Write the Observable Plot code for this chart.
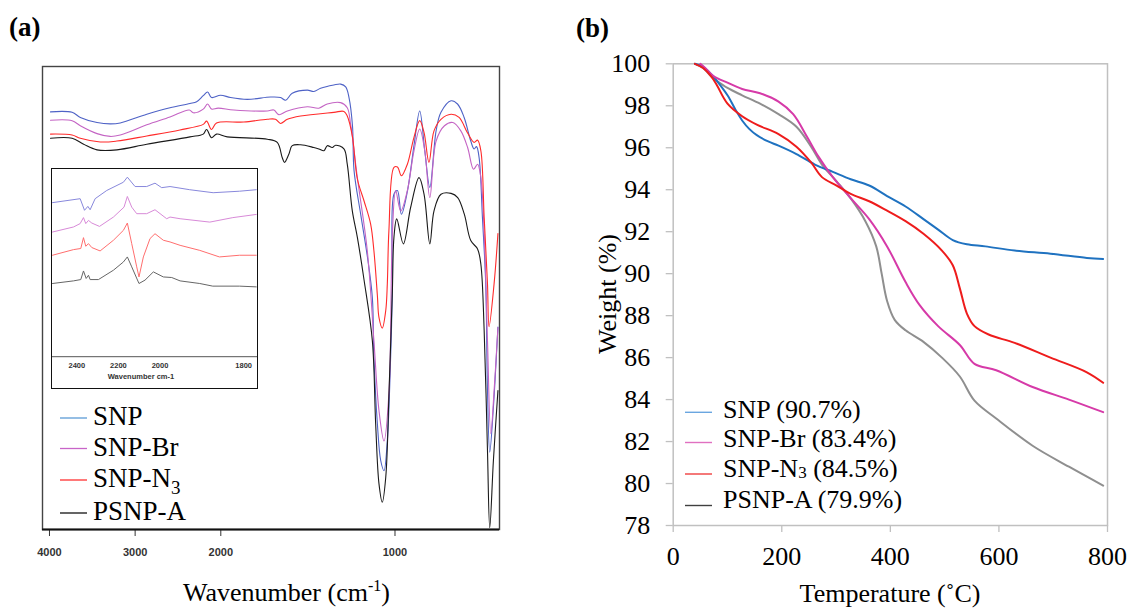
<!DOCTYPE html>
<html><head><meta charset="utf-8">
<script src="https://cdn.jsdelivr.net/npm/d3@7"></script>
<script src="https://cdn.jsdelivr.net/npm/@observablehq/plot@0.6"></script>
<style>
html,body{margin:0;padding:0;background:#fff;}
#wrap{position:relative;width:1127px;height:610px;overflow:hidden;background:#fff;}
.abs{position:absolute;}
</style></head><body>
<div id="wrap">
  <div id="pa" class="abs" style="left:0;top:0;width:560px;height:610px"></div>
  <div id="pin" class="abs" style="left:51px;top:168px;width:205px;height:219px;border:1.6px solid #111;background:#fff"></div>
  <div id="pb" class="abs" style="left:560px;top:0;width:567px;height:610px"></div>
  <svg id="ov" class="abs" style="left:0;top:0;pointer-events:none" width="1127" height="610"></svg>
</div>
<script>
// ---------- series names ----------
const seriesNames = ["SNP", "SNP-Br", "SNP-N3", "PSNP-A"];
const tgaLegend = ["(90.7%)", "(83.4%)", "(84.5%)", "(79.9%)"];

// ---------- (a) FTIR main: [wavenumber cm-1, transmittance a.u.] ----------
const ftirSNP = [[3988,90.2],[3736,90.1],[3640,89.0],[3445,87.9],[3291,87.6],[3174,87.8],[2864,89.7],[2593,91.1],[2360,92.0],[2282,92.4],[2205,93.7],[2154,94.5],[2108,93.3],[2003,93.8],[1944,93.3],[1848,92.9],[1714,93.4],[1657,93.3],[1628,92.7],[1590,94.2],[1503,94.9],[1466,94.6],[1427,95.3],[1351,96.0],[1312,96.2],[1283,95.6],[1264,93.3],[1244,87.2],[1235,77.5],[1197,68.1],[1158,58.8],[1130,50.1],[1121,37.2],[1101,22.8],[1082,14.9],[1063,12.7],[1044,19.2],[1025,37.2],[1015,51.6],[1006,72.4],[986,73.2],[963,68.1],[928,73.2],[890,83.2],[858,90.4],[829,81.8],[800,73.9],[764,86.1],[736,90.1],[678,92.6],[641,91.9],[603,89.0],[565,83.9],[546,82.2],[532,82.7],[517,80.3],[498,67.4],[479,53.0],[469,30.0],[456,16.7],[435,26.4],[409,43.7]];
const ftirSNPBr = [[3988,88.4],[3736,88.3],[3640,87.2],[3445,85.5],[3291,84.9],[3174,85.2],[2864,87.4],[2593,89.1],[2368,90.6],[2322,90.0],[2205,90.8],[2154,91.9],[2108,90.8],[2031,91.0],[1925,90.6],[1733,90.4],[1695,90.6],[1667,89.6],[1618,90.4],[1503,91.3],[1437,91.0],[1389,91.9],[1312,92.2],[1274,91.1],[1255,87.6],[1216,76.0],[1159,60.2],[1121,40.8],[1092,25.7],[1063,19.1],[1034,30.0],[1015,63.9],[996,73.2],[967,68.8],[929,73.2],[891,81.8],[858,86.5],[829,81.8],[800,71.7],[764,83.9],[716,87.2],[668,87.9],[622,86.1],[583,82.5],[549,77.8],[526,78.9],[507,76.0],[488,63.9],[469,40.8],[450,20.7],[431,30.0],[409,43.6]];
const ftirSNPN3 = [[3988,85.4],[3736,85.2],[3640,84.5],[3407,83.7],[3213,83.9],[2864,85.0],[2477,86.3],[2205,87.5],[2166,88.2],[2108,86.4],[2050,87.8],[1868,88.0],[1733,88.6],[1686,88.6],[1657,87.7],[1618,88.6],[1542,89.3],[1351,90.1],[1293,90.3],[1274,89.3],[1245,85.0],[1216,75.7],[1178,71.0],[1140,66.0],[1121,60.2],[1101,50.5],[1092,45.8],[1073,43.5],[1053,47.3],[1044,53.1],[1035,64.5],[1006,78.2],[986,78.3],[963,76.4],[929,78.9],[891,84.7],[858,88.3],[833,85.7],[805,79.3],[776,86.1],[736,88.6],[678,89.7],[632,89.0],[584,85.7],[546,83.6],[526,84.1],[507,81.8],[488,67.4],[469,53.1],[460,43.8],[431,53.1],[409,63.9]];
const ftirPSNPA = [[3988,84.5],[3736,84.5],[3601,83.2],[3445,82.0],[3213,82.0],[2864,83.2],[2360,84.8],[2205,85.4],[2166,86.4],[2108,84.6],[2050,85.4],[1963,84.8],[1733,84.3],[1676,83.6],[1647,80.3],[1634,79.3],[1609,81.1],[1590,82.9],[1542,83.1],[1466,82.5],[1437,82.2],[1408,81.8],[1389,82.9],[1360,82.5],[1341,83.0],[1293,82.2],[1274,78.9],[1245,68.8],[1216,63.1],[1178,54.0],[1130,40.8],[1111,22.9],[1092,9.9],[1073,5.9],[1053,11.3],[1034,30.0],[1015,51.6],[1006,63.1],[990,67.1],[952,61.7],[910,69.6],[862,76.0],[833,72.4],[800,61.7],[776,68.8],[736,72.4],[678,72.6],[640,71.7],[602,68.1],[565,62.4],[526,60.6],[507,57.3],[488,42.9],[469,17.0],[456,0.4],[435,14.9],[409,30.0]];

// ---------- (a) inset: 2500-1770 cm-1 ----------
const insetSNP = [[2517,82.3],[2384,84.4],[2363,78.2],[2347,80.3],[2336,78.5],[2312,84.4],[2256,88.8],[2176,93.2],[2157,95.9],[2120,90.9],[2064,90.9],[2024,92.7],[1996,90.3],[1976,90.9],[1929,89.2],[1873,87.6],[1810,88.4],[1770,89.2]];
const insetSNPBr = [[2517,66.6],[2416,69.3],[2384,71.1],[2368,74.3],[2357,71.1],[2344,72.8],[2328,71.4],[2291,69.6],[2224,74.6],[2173,79.9],[2157,85.6],[2136,79.9],[2112,76.4],[2064,76.4],[2024,78.5],[1984,73.7],[1976,74.6],[1952,73.7],[1881,71.9],[1826,74.3],[1770,76.0]];
const insetSNPN3 = [[2517,54.2],[2416,57.2],[2381,57.8],[2368,63.6],[2357,59.0],[2344,60.4],[2328,58.3],[2288,56.5],[2224,62.2],[2176,67.5],[2157,71.4],[2136,60.4],[2112,48.0],[2101,42.6],[2080,53.3],[2048,63.1],[2024,65.7],[1992,62.2],[1976,61.3],[1952,59.5],[1905,56.8],[1858,53.3],[1810,54.2],[1770,54.2]];
const insetPSNPA = [[2517,39.1],[2416,40.5],[2381,41.2],[2368,45.8],[2355,41.8],[2344,43.5],[2336,41.2],[2296,41.2],[2224,46.2],[2176,50.6],[2157,53.3],[2136,48.0],[2101,39.1],[2072,40.9],[2032,45.3],[1992,42.6],[1972,42.3],[1952,40.5],[1905,39.1],[1874,37.7],[1810,37.7],[1770,37.3]];

// ---------- (b) TGA: [temperature °C, weight %] ----------
const tgaSNP = [[40,100],[55,99.85],[70,99.5],[80,99.2],[100,98.5],[115,97.8],[127,97.3],[140,96.9],[154,96.6],[175,96.3],[194,96.1],[227,95.7],[261,95.2],[294,94.85],[327,94.5],[361,94.2],[394,93.7],[428,93.2],[461,92.6],[488,92.1],[515,91.6],[541,91.4],[575,91.3],[629,91.1],[695,90.95],[762,90.75],[792,90.7]];
const tgaSNPBr = [[50,100],[59,99.8],[75,99.4],[100,99.1],[127,98.8],[160,98.6],[194,98.2],[221,97.6],[247,96.5],[267,95.6],[294,94.6],[327,93.6],[361,92.6],[394,91.3],[428,89.6],[454,88.5],[488,87.5],[528,86.6],[555,85.7],[595,85.4],[662,84.6],[729,84.0],[792,83.4]];
const tgaSNPN3 = [[40,100],[55,99.8],[70,99.4],[80,99.0],[100,98.1],[127,97.5],[154,97.1],[194,96.65],[227,96.05],[254,95.3],[274,94.6],[301,94.2],[327,93.8],[361,93.45],[394,93.0],[428,92.5],[461,91.9],[495,91.1],[515,90.4],[528,89.3],[541,88.1],[555,87.5],[581,87.1],[629,86.7],[695,86.0],[762,85.3],[792,84.8]];
const tgaPSNPA = [[40,100],[55,99.8],[70,99.4],[80,99.2],[100,98.85],[127,98.5],[160,98.1],[194,97.6],[227,97.0],[254,96.05],[274,95.2],[301,94.4],[328,93.55],[354,92.5],[374,91.3],[384,90.0],[394,88.7],[408,87.8],[428,87.3],[461,86.75],[495,86.0],[528,85.1],[555,83.95],[595,83.1],[662,81.8],[729,80.8],[792,79.9]];

// ---------- tick labels ----------
const ftirTicks = [4000, 3000, 2000, 1000];
const insetTicks = [2400, 2200, 2000, 1800];
const tgaXTicks = [0, 200, 400, 600, 800];
const tgaYTicks = [78, 80, 82, 84, 86, 88, 90, 92, 94, 96, 98, 100];

// ---------- colours ----------
const colorsMain = ["#4e62c6", "#c464c4", "#ff2b2b", "#1a1a1a"];
const colorsInset = ["#8888dc", "#d88ad8", "#ff6e6e", "#666666"];
const colorsLegendA = ["#5b9bd5", "#c864c8", "#ff3030", "#111111"];
const colorsTGA = ["#1f72c0", "#d63aa8", "#ee1c1c", "#8f8f8f"];
const colorsLegendB = ["#6aa6e0", "#e070c0", "#f04040", "#404040"];

const serif = "'Liberation Serif', 'Times New Roman', serif";
const sans = "'Liberation Sans', Arial, sans-serif";

const rows = (arr, s) => arr.map(([x, y]) => ({x, y, series: s}));
const mainRows = [ftirSNP, ftirSNPBr, ftirSNPN3, ftirPSNPA].flatMap((a, i) => rows(a, seriesNames[i]));
const insetRows = [insetSNP, insetSNPBr, insetSNPN3, insetPSNPA].flatMap((a, i) => rows(a, seriesNames[i]));
const tgaRows = [tgaPSNPA, tgaSNP, tgaSNPBr, tgaSNPN3].flatMap((a, i) => rows(a, ["PSNP-A","SNP","SNP-Br","SNP-N3"][i]));

// ---------- (a) main FTIR ----------
const pa = Plot.plot({
  width: 560, height: 610,
  marginLeft: 42, marginRight: 61, marginTop: 66, marginBottom: 81,
  x: {type: "linear", domain: [4085, 2000, 400], range: [41.7, 220.3, 499], ticks: ftirTicks,
      tickFormat: d => String(d), tickSize: 7, tickPadding: 12, label: null},
  y: {domain: [0, 100], axis: null},
  color: {domain: seriesNames, range: colorsMain},
  style: {fontFamily: sans, fontSize: "11px", fontWeight: "bold", color: "#333", background: "transparent"},
  marks: [
    Plot.frame({stroke: "#444", strokeWidth: 1.4}),
    Plot.ruleY([0], {stroke: "#111", strokeWidth: 2}),
    Plot.line(mainRows, {x: "x", y: "y", z: "series", stroke: "series", strokeWidth: 1.1, curve: "catmull-rom"})
  ]
});
d3.select(pa).selectAll("text").attr("font-family", sans).attr("font-size", 11).attr("font-weight", "bold").attr("fill", "#333");
document.getElementById("pa").appendChild(pa);

// ---------- (a) inset ----------
const pin = Plot.plot({
  width: 205, height: 219,
  marginLeft: 0, marginRight: 0, marginTop: 0, marginBottom: 31.8,
  x: {type: "linear", domain: [2517, 2000, 1767], range: [0, 107.5, 205], ticks: insetTicks,
      tickFormat: d => String(d), tickSize: 0, tickPadding: 6, label: null},
  y: {domain: [0, 100], axis: null},
  color: {domain: seriesNames, range: colorsInset},
  style: {fontFamily: sans, fontSize: "7.5px", fontWeight: "bold", color: "#333", background: "#fff"},
  marks: [
    Plot.ruleY([0], {stroke: "#555", strokeWidth: 1}),
    Plot.line(insetRows, {x: "x", y: "y", z: "series", stroke: "series", strokeWidth: 1, curve: "linear"})
  ]
});
d3.select(pin).selectAll("text").attr("font-family", sans).attr("font-size", 7.5).attr("font-weight", "bold").attr("fill", "#333");
document.getElementById("pin").appendChild(pin);

// ---------- (b) TGA ----------
const pb = Plot.plot({
  width: 567, height: 610,
  marginLeft: 112.7, marginRight: 20, marginTop: 63.3, marginBottom: 85,
  x: {domain: [0, 800], ticks: tgaXTicks, tickSize: 7, tickPadding: 14, label: null},
  y: {domain: [78, 100], ticks: tgaYTicks, tickSize: 7, tickPadding: 16, label: null},
  color: {domain: seriesNames, range: colorsTGA},
  style: {fontFamily: serif, fontSize: "26px", color: "#000", background: "transparent"},
  marks: [
    Plot.frame({stroke: "#c0c0c0", strokeWidth: 1.5}),
    Plot.line(tgaRows, {x: "x", y: "y", z: "series", stroke: "series", strokeWidth: 2, curve: "catmull-rom"})
  ]
});
d3.select(pb).selectAll("g[aria-label*='axis'] line, g[aria-label*='axis'] path").attr("stroke", "#c0c0c0").attr("stroke-width", 1.3);
d3.select(pb).selectAll("text").attr("font-family", serif).attr("font-size", 26).attr("fill", "#000");
document.getElementById("pb").appendChild(pb);

// ---------- overlay texts and legends ----------
const ov = d3.select("#ov");
ov.append("text").attr("x", 9).attr("y", 36).attr("font-family", serif).attr("font-size", 27).attr("font-weight", "bold").text("(a)");
ov.append("text").attr("x", 576).attr("y", 37).attr("font-family", serif).attr("font-size", 27).attr("font-weight", "bold").text("(b)");

// (a) x title
const wt = ov.append("text").attr("x", 286.5).attr("y", 601).attr("text-anchor", "middle").attr("font-family", serif).attr("font-size", 26);
wt.append("tspan").text("Wavenumber (cm");
wt.append("tspan").attr("dy", -10).attr("font-size", 16).text("-1");
wt.append("tspan").attr("dy", 10).text(")");

// inset x title
ov.append("text").attr("x", 141).attr("y", 379).attr("text-anchor", "middle")
  .attr("font-family", sans).attr("font-size", 7.5).attr("font-weight", "bold").attr("fill", "#333")
  .text("Wavenumber cm-1");

// (a) legend
const legAY = [418, 448.5, 480, 513];
seriesNames.forEach((s, i) => {
  ov.append("line").attr("x1", 60).attr("x2", 87).attr("y1", legAY[i]).attr("y2", legAY[i]).attr("stroke", colorsLegendA[i]).attr("stroke-width", 1.3);
  const t = ov.append("text").attr("x", 93).attr("y", legAY[i] + 7).attr("font-family", serif).attr("font-size", 27);
  if (s === "SNP-N3") {
    t.append("tspan").text("SNP-N");
    t.append("tspan").attr("dy", 7).attr("font-size", 19).text("3");
  } else t.text(s);
});

// (b) legend
const legBLine = [412.3, 442.5, 474, 505.5];
const legBBase = [417.7, 446.9, 476.7, 508.3];
seriesNames.forEach((s, i) => {
  ov.append("line").attr("x1", 685).attr("x2", 712).attr("y1", legBLine[i]).attr("y2", legBLine[i]).attr("stroke", colorsLegendB[i]).attr("stroke-width", 1.4);
  const t = ov.append("text").attr("x", 723).attr("y", legBBase[i]).attr("font-family", serif).attr("font-size", 26);
  if (s === "SNP-N3") {
    t.append("tspan").text("SNP-N");
    t.append("tspan").attr("dy", 1).attr("font-size", 17).text("3");
    t.append("tspan").attr("dy", -1).text(" " + tgaLegend[i]);
  } else t.text(s + " " + tgaLegend[i]);
});

// (b) axis titles
ov.append("text").attr("x", 890).attr("y", 602).attr("text-anchor", "middle").attr("font-family", serif).attr("font-size", 26).text("Temperature (˚C)");
ov.append("text").attr("transform", "translate(616,294) rotate(-90)").attr("text-anchor", "middle").attr("font-family", serif).attr("font-size", 26).text("Weight (%)");
</script>
</body></html>
